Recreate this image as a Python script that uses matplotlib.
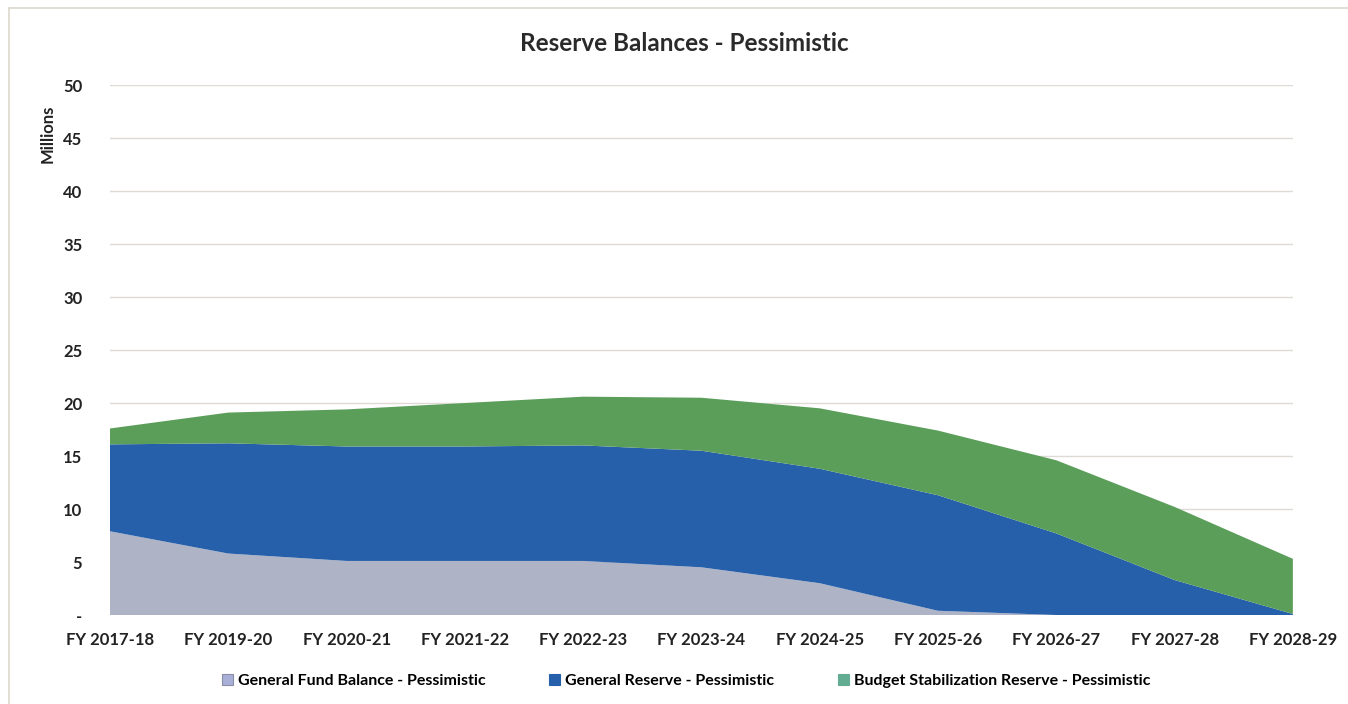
import matplotlib.pyplot as plt
from matplotlib.lines import Line2D
from matplotlib.patches import Patch

# ===== Data (millions) =====
years = ["FY 2017-18", "FY 2019-20", "FY 2020-21", "FY 2021-22", "FY 2022-23", "FY 2023-24",
         "FY 2024-25", "FY 2025-26", "FY 2026-27", "FY 2027-28", "FY 2028-29"]
general_fund = [7.9, 5.8, 5.1, 5.1, 5.1, 4.5, 3.0, 0.4, 0.0, 0.0, 0.0]
general_reserve = [8.2, 10.4, 10.8, 10.8, 10.9, 11.0, 10.8, 10.9, 7.7, 3.3, 0.1]
budget_stab = [1.5, 2.9, 3.5, 4.1, 4.6, 5.0, 5.7, 6.1, 6.9, 6.9, 5.2]

labels = ["General Fund Balance - Pessimistic",
          "General Reserve - Pessimistic",
          "Budget Stabilization Reserve - Pessimistic"]
colors = ["#afb3c6", "#2760aa", "#5b9e5a"]
legend_colors = ["#a9afd6", "#2760aa", "#62ad92"]

plt.rcParams["font.family"] = ["Lato", "DejaVu Sans"]

fig = plt.figure(figsize=(13.48, 7.04), dpi=100)
ax = fig.add_axes([0.0816, 0.1264, 0.8775, 0.7528])

x = range(len(years))
ax.stackplot(x, general_fund, general_reserve, budget_stab, colors=colors, linewidth=0)

ax.set_xlim(0, len(years) - 1)
ax.set_ylim(0, 50)
ax.set_yticks(range(0, 51, 5))
ax.set_yticklabels(["-"] + [str(v) for v in range(5, 51, 5)])
ax.set_xticks(list(x))
ax.set_xticklabels(years)
ax.tick_params(length=0, labelsize=12, colors="#222222", pad=12)
ax.tick_params(axis="y", pad=20)
for lbl in ax.get_xticklabels() + ax.get_yticklabels():
    lbl.set_fontweight("bold")
ax.grid(axis="y", color="#dedbd6", linewidth=1)
ax.set_axisbelow(True)
for s in ax.spines.values():
    s.set_visible(False)

fig.text(0.508, 0.938, "Reserve Balances - Pessimistic", ha="center", va="center",
         fontsize=17.5, fontweight="bold", color="#2a2a2a")
fig.text(0.035, 0.81, "Millions", rotation=90, ha="center", va="center",
         fontsize=12, fontweight="bold", color="#222222")

# outer chart frame (top and left edges)
fig.add_artist(Line2D([0.0067, 1.0], [0.989, 0.989], color="#dcd8cc", linewidth=1.2))
fig.add_artist(Line2D([0.0067, 0.0067], [0.0, 0.989], color="#dcd8cc", linewidth=1.2))

handles = [Patch(facecolor=c, edgecolor="#8a8fa8" if i == 0 else c, linewidth=0.8)
           for i, c in enumerate(legend_colors)]
fig.legend(handles, labels, loc="center", bbox_to_anchor=(0.509, 0.033), ncol=3,
           frameon=False, handlelength=0.7, handleheight=0.7,
           handletextpad=0.3, columnspacing=4.0,
           prop={"weight": "bold", "size": 11.5})

fig.savefig("out.png", dpi=100)
